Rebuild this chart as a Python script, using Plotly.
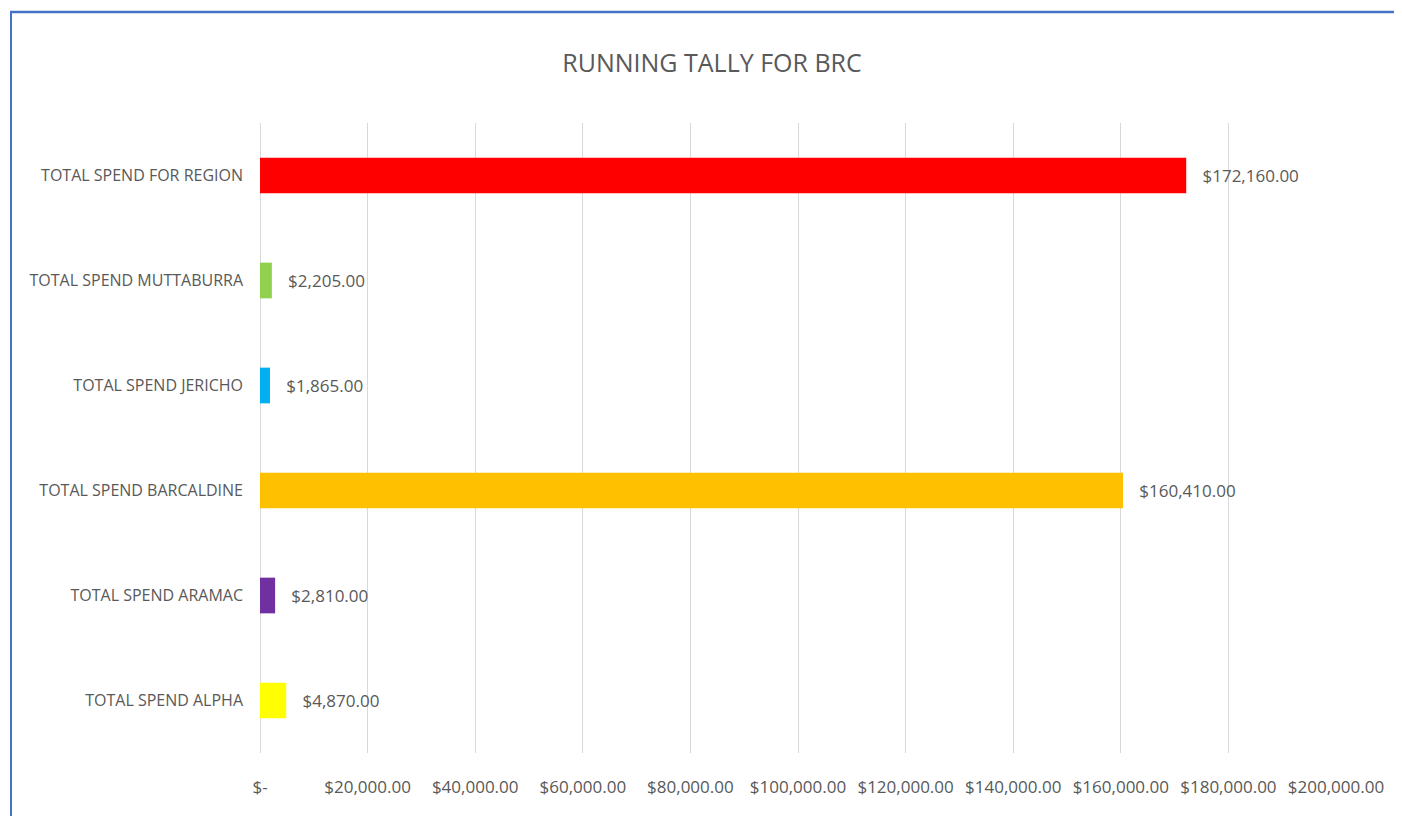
import plotly.graph_objects as go

categories = ["TOTAL SPEND ALPHA", "TOTAL SPEND ARAMAC", "TOTAL SPEND BARCALDINE",
              "TOTAL SPEND JERICHO", "TOTAL SPEND MUTTABURRA", "TOTAL SPEND FOR REGION"]
values = [4870, 2810, 160410, 1865, 2205, 172160]
bar_colors = ["#FFFF00", "#7030A0", "#FFC000", "#00B0F0", "#92D050", "#FF0000"]
tick_vals = [0, 20000, 40000, 60000, 80000, 100000, 120000, 140000, 160000, 180000, 200000]
tick_text = ["$-", "$20,000.00", "$40,000.00", "$60,000.00", "$80,000.00", "$100,000.00",
             "$120,000.00", "$140,000.00", "$160,000.00", "$180,000.00", "$200,000.00"]
labels = ["\u00a0\u00a0\u00a0${:,.2f}".format(v) for v in values]

W, H = 1402, 816
ML, MR, MT, MB = 252, 74, 115, 71
pw, ph = W - ML - MR, H - MT - MB

FONT = "Open Sans, sans-serif"
GRAY = "#595959"

fig = go.Figure(go.Bar(
    y=categories, x=values, orientation="h",
    marker=dict(color=bar_colors, line=dict(width=0)),
    text=labels, textposition="outside", cliponaxis=False,
    textfont=dict(family=FONT, size=17, color=GRAY),
))

def px_x(p):
    return (p - ML) / pw

def px_y(p):
    return (H - MB - p) / ph

fig.update_layout(
    width=W, height=H,
    margin=dict(l=ML, r=MR, t=MT, b=MB),
    paper_bgcolor="white", plot_bgcolor="white",
    bargap=0.66,
    showlegend=False,
    title=dict(text="RUNNING TALLY FOR BRC", x=704 / W, xanchor="center",
               y=1 - 55 / H, yanchor="middle",
               font=dict(family=FONT, size=25, color=GRAY)),
    xaxis=dict(range=[0, 200000], tickvals=tick_vals, ticktext=tick_text,
               showgrid=True, gridcolor="#D9D9D9", gridwidth=1.3,
               zeroline=True, zerolinecolor="#D9D9D9", zerolinewidth=1.3,
               showline=False, ticks="", ticklabelstandoff=22,
               tickfont=dict(family=FONT, size=17, color=GRAY)),
    yaxis=dict(showgrid=False, showline=False, ticks="", ticklabelstandoff=16,
               tickfont=dict(family=FONT, size=16, color=GRAY)),
    font=dict(family=FONT, color=GRAY),
    shapes=[
        dict(type="line", xref="paper", yref="paper",
             x0=px_x(2), x1=px_x(1402), y0=px_y(4), y1=px_y(4),
             line=dict(color="#4472C4", width=2.5)),
        dict(type="line", xref="paper", yref="paper",
             x0=px_x(3), x1=px_x(3), y0=px_y(4), y1=px_y(816),
             line=dict(color="#4472C4", width=2)),
    ],
)

fig.write_html("out.html")
